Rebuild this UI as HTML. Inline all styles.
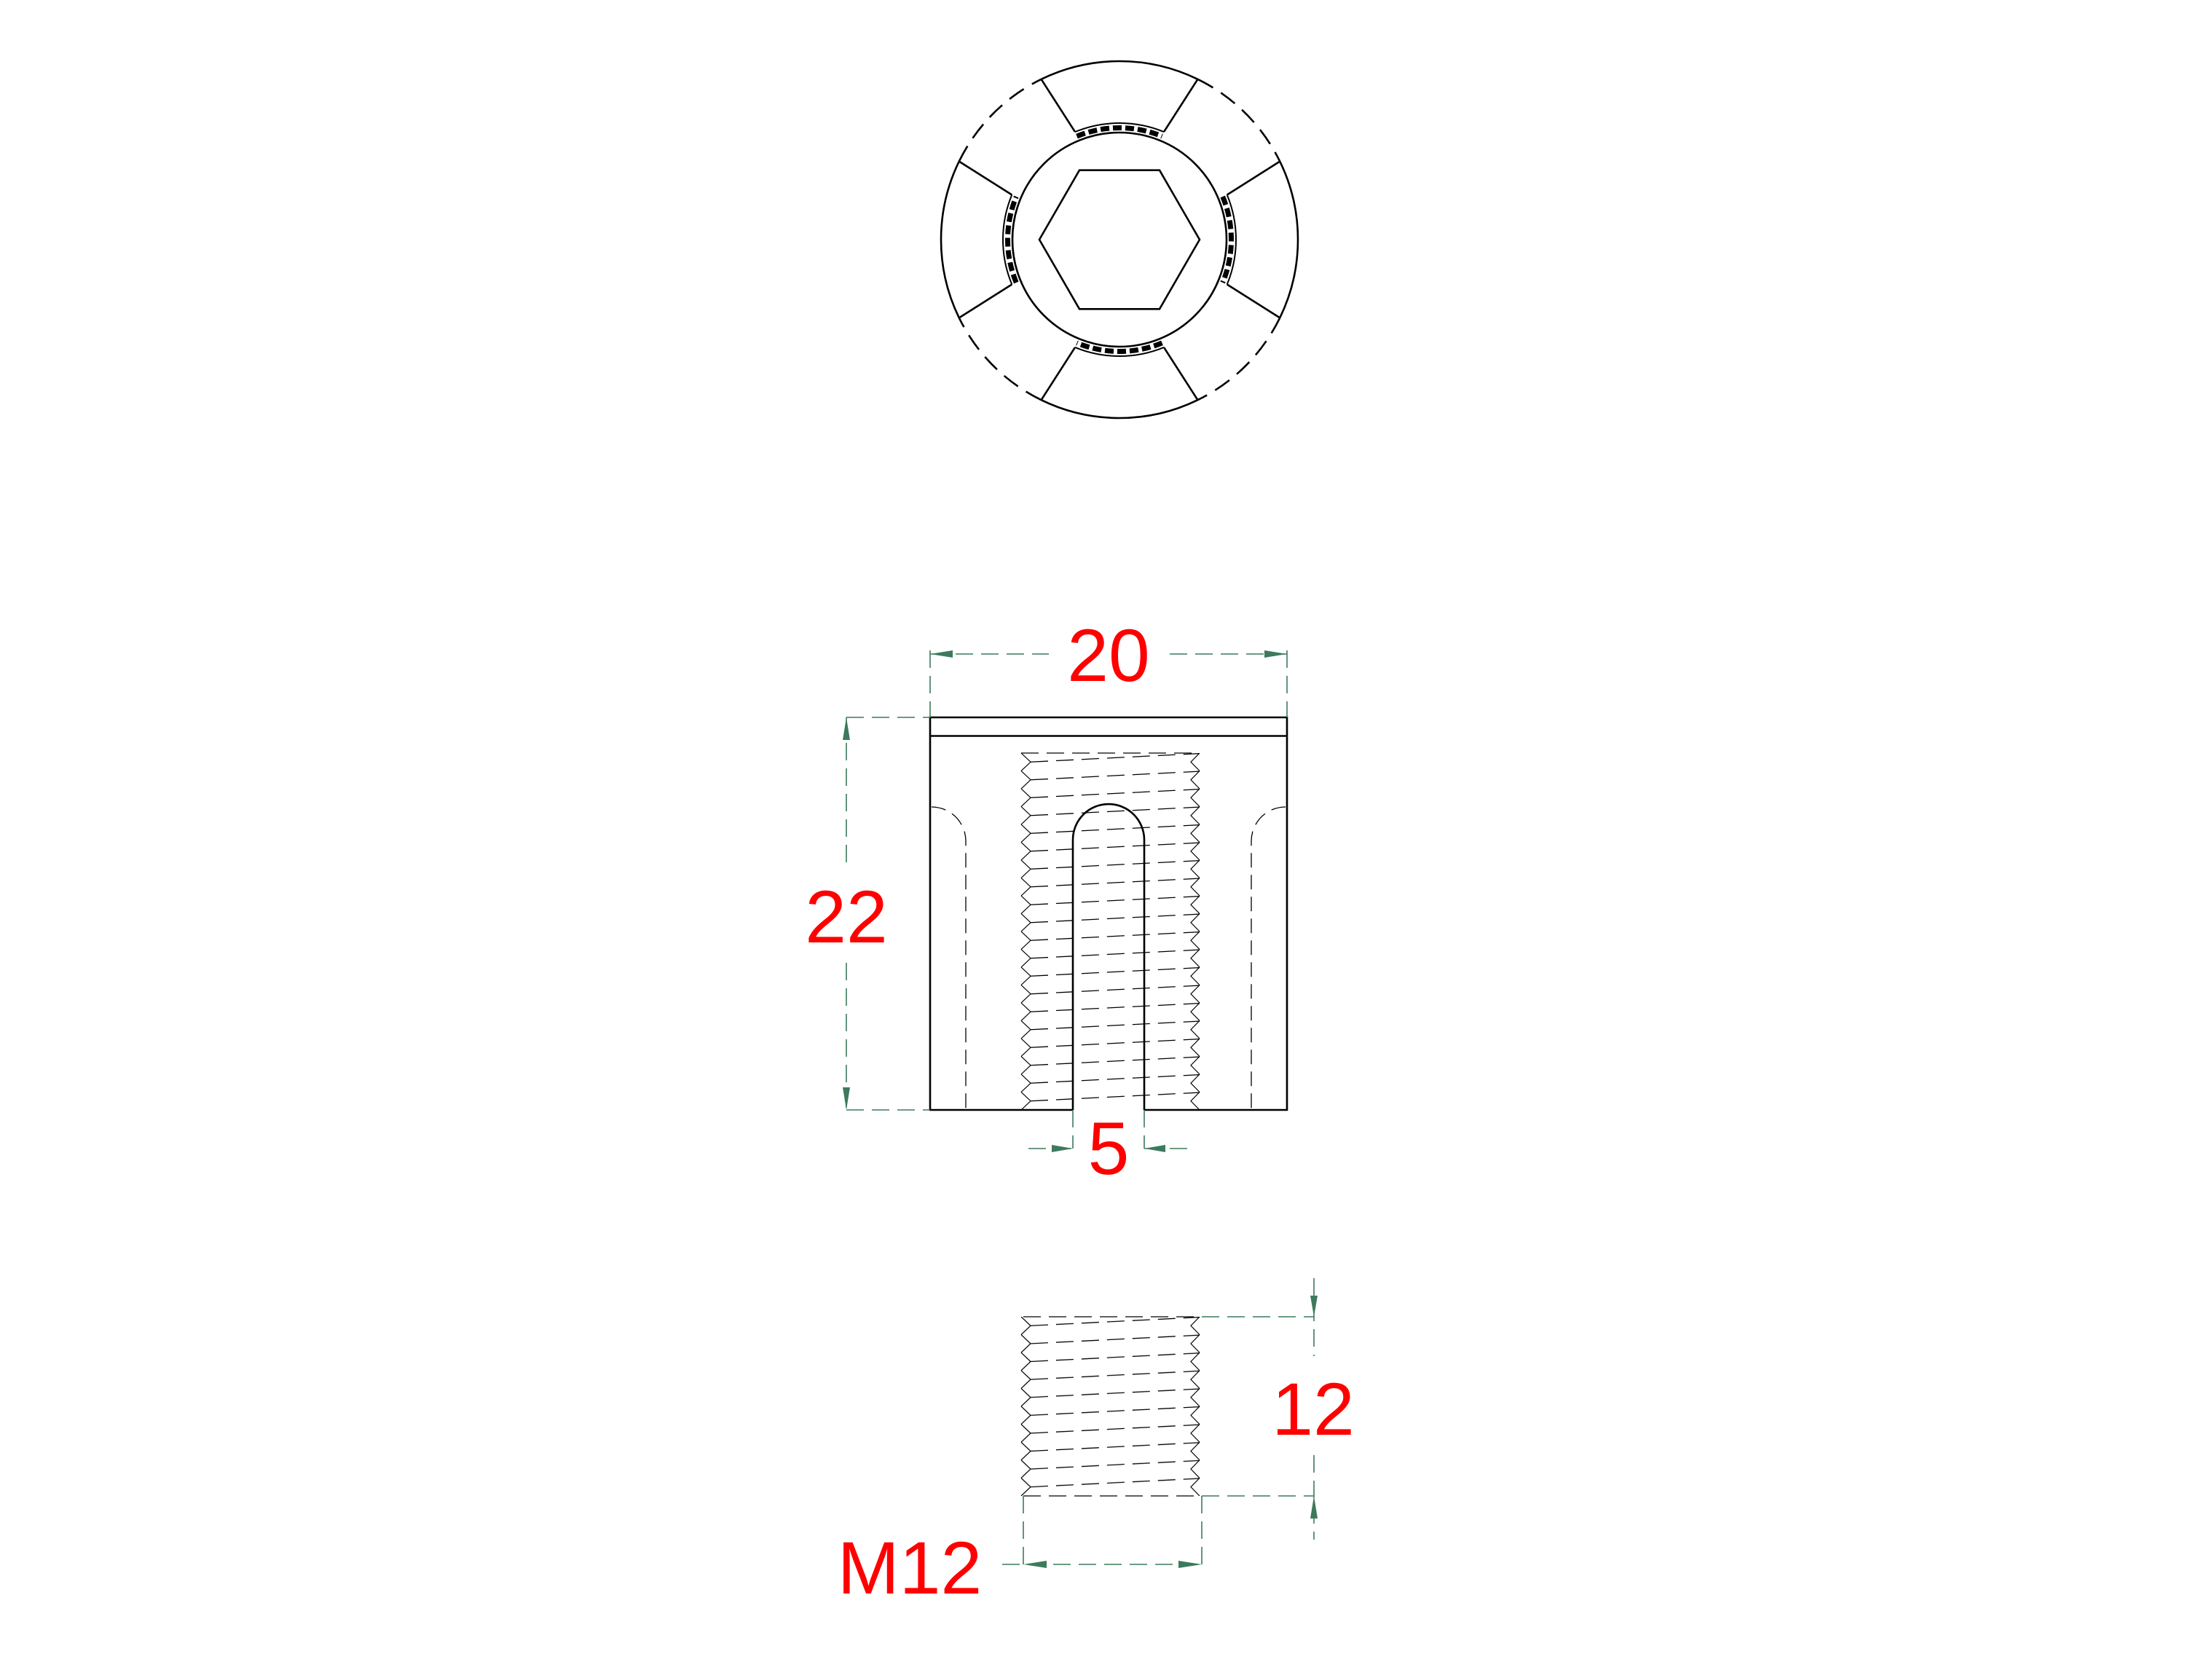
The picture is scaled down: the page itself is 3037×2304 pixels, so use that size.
<!DOCTYPE html>
<html><head><meta charset="utf-8"><style>
html,body{margin:0;padding:0;background:#fff;}
svg{display:block;}
text{font-family:"Liberation Sans",Arial,sans-serif;fill:#ff0000;}
</style></head><body>
<svg width="3037" height="2304" viewBox="0 0 3037 2304" xmlns="http://www.w3.org/2000/svg">
<defs>
<pattern id="thA" patternUnits="userSpaceOnUse" x="1400" y="1034" width="250" height="24.5">
 <polyline points="2,0 15,12.25 2,24.5" fill="none" stroke="#000" stroke-width="1.2"/>
 <polyline points="247,0 235,12.25 247,24.5" fill="none" stroke="#000" stroke-width="1.2"/>
 <line x1="15" y1="12.25" x2="247" y2="0.6" stroke="#000" stroke-width="1.3" stroke-dasharray="24 11"/>
</pattern>
<pattern id="thB" patternUnits="userSpaceOnUse" x="1400" y="1808" width="250" height="24.6">
 <polyline points="2,0 15,12.3 2,24.6" fill="none" stroke="#000" stroke-width="1.2"/>
 <polyline points="247,0 235,12.3 247,24.6" fill="none" stroke="#000" stroke-width="1.2"/>
 <line x1="15" y1="12.3" x2="247" y2="0.6" stroke="#000" stroke-width="1.3" stroke-dasharray="24 11"/>
</pattern>
</defs>

<!-- TOP VIEW -->
<g fill="none" stroke="#000" stroke-width="2.6">
 <path d="M1757.2 221.6 A245 245 0 0 1 1757.2 436.4"/>
 <path d="M1429.6 108.8 A245 245 0 0 1 1644.4 108.8"/>
 <path d="M1316.8 436.4 A245 245 0 0 1 1316.8 221.6"/>
 <path d="M1644.4 549.2 A245 245 0 0 1 1429.6 549.2"/>
 <g stroke-dasharray="24 13">
  <path d="M1644.4 108.8 A245 245 0 0 1 1757.2 221.6"/>
  <path d="M1757.2 436.4 A245 245 0 0 1 1644.4 549.2"/>
  <path d="M1429.6 549.2 A245 245 0 0 1 1316.8 436.4"/>
  <path d="M1316.8 221.6 A245 245 0 0 1 1429.6 108.8"/>
 </g>
 <line x1="1684.7" y1="267.5" x2="1757.2" y2="221.6"/>
 <line x1="1598" y1="181.1" x2="1644.4" y2="108.8"/>
 <line x1="1476" y1="181.1" x2="1429.6" y2="108.8"/>
 <line x1="1389.3" y1="267.5" x2="1316.8" y2="221.6"/>
 <line x1="1389.3" y1="390.5" x2="1316.8" y2="436.4"/>
 <line x1="1476" y1="476.9" x2="1429.6" y2="549.2"/>
 <line x1="1598" y1="476.9" x2="1644.4" y2="549.2"/>
 <line x1="1684.7" y1="390.5" x2="1757.2" y2="436.4"/>
 <circle cx="1537" cy="329" r="147"/>
 <polygon points="1427,329 1482,233.7 1592,233.7 1647,329 1592,424.3 1482,424.3"/>
 <g stroke-width="2">
  <path d="M1684.7 267.5 A160 160 0 0 1 1684.7 390.5"/>
  <path d="M1476 181.1 A160 160 0 0 1 1598 181.1"/>
  <path d="M1389.3 390.5 A160 160 0 0 1 1389.3 267.5"/>
  <path d="M1598 476.9 A160 160 0 0 1 1476 476.9"/>
 </g>
 <g stroke-width="7" stroke-dasharray="12 5">
  <path d="M1678.7 270 A153.5 153.5 0 0 1 1678.7 388"/>
  <path d="M1478.5 187.1 A153.5 153.5 0 0 1 1595.5 187.1"/>
  <path d="M1395.3 388 A153.5 153.5 0 0 1 1395.3 270"/>
  <path d="M1595.5 470.9 A153.5 153.5 0 0 1 1478.5 470.9"/>
 </g>
</g>

<!-- FRONT VIEW -->
<rect x="1400" y="1034" width="250" height="490" fill="url(#thA)"/>
<line x1="1402" y1="1034" x2="1647" y2="1034" stroke="#000" stroke-width="1.3" stroke-dasharray="24 11"/>
<g fill="none" stroke="#000" stroke-width="1.3" stroke-dasharray="20 10">
 <path d="M1279 1108 A47 47 0 0 1 1326 1155 V1524"/>
 <path d="M1765 1108 A47 47 0 0 0 1718 1155 V1524"/>
</g>
<g fill="none" stroke="#000" stroke-width="2.6">
 <path d="M1473 1524 H1277 V985 H1767 V1524 H1571"/>
 <line x1="1277" y1="1010.5" x2="1767" y2="1010.5"/>
 <path d="M1473 1524 V1153 A49 49 0 0 1 1571 1153 V1524"/>
</g>

<!-- THREAD VIEW -->
<rect x="1400" y="1808" width="250" height="246" fill="url(#thB)"/>
<g stroke="#000" stroke-width="1.3" stroke-dasharray="24 11">
 <line x1="1405" y1="1808" x2="1650" y2="1808"/>
 <line x1="1405" y1="2054" x2="1650" y2="2054"/>
</g>

<!-- DIMENSIONS -->
<g fill="none" stroke="#3c7a5c" stroke-width="1.6" stroke-dasharray="24 11">
 <line x1="1277" y1="893" x2="1277" y2="985"/>
 <line x1="1767" y1="893" x2="1767" y2="985"/>
 <line x1="1277" y1="898" x2="1440" y2="898"/>
 <line x1="1606" y1="898" x2="1767" y2="898"/>
 <line x1="1162" y1="985" x2="1277" y2="985"/>
 <line x1="1162" y1="1524" x2="1277" y2="1524"/>
 <line x1="1162" y1="985" x2="1162" y2="1188"/>
 <line x1="1162" y1="1322" x2="1162" y2="1524"/>
 <line x1="1473" y1="1524" x2="1473" y2="1577"/>
 <line x1="1571" y1="1524" x2="1571" y2="1577"/>
 <line x1="1412" y1="1577" x2="1473" y2="1577"/>
 <line x1="1571" y1="1577" x2="1632" y2="1577"/>
 <line x1="1650" y1="1808" x2="1804" y2="1808"/>
 <line x1="1650" y1="2054" x2="1804" y2="2054"/>
 <line x1="1804" y1="1755" x2="1804" y2="1862"/>
 <line x1="1804" y1="1998" x2="1804" y2="2114"/>
 <line x1="1405" y1="2054" x2="1405" y2="2148"/>
 <line x1="1650" y1="2054" x2="1650" y2="2148"/>
 <line x1="1376" y1="2148" x2="1650" y2="2148"/>
</g>
<g fill="#3c7a5c">
 <polygon points="1277,898 1308,893 1308,903"/>
 <polygon points="1767,898 1736,893 1736,903"/>
 <polygon points="1162,985 1157,1016 1167,1016"/>
 <polygon points="1162,1524 1157,1493 1167,1493"/>
 <polygon points="1473,1577 1444,1572 1444,1582"/>
 <polygon points="1571,1577 1600,1572 1600,1582"/>
 <polygon points="1804,1808 1799,1779 1809,1779"/>
 <polygon points="1804,2054 1799,2085 1809,2085"/>
 <polygon points="1405,2148 1437,2143 1437,2153"/>
 <polygon points="1650,2148 1618,2143 1618,2153"/>
</g>

<text x="1522" y="935" font-size="102" text-anchor="middle">20</text>
<text x="1162" y="1294" font-size="102" text-anchor="middle">22</text>
<text x="1522" y="1612" font-size="102" text-anchor="middle">5</text>
<text x="1803" y="1970" font-size="102" text-anchor="middle">12</text>
<text x="1249" y="2188" font-size="102" text-anchor="middle">M12</text>
</svg>
</body></html>
